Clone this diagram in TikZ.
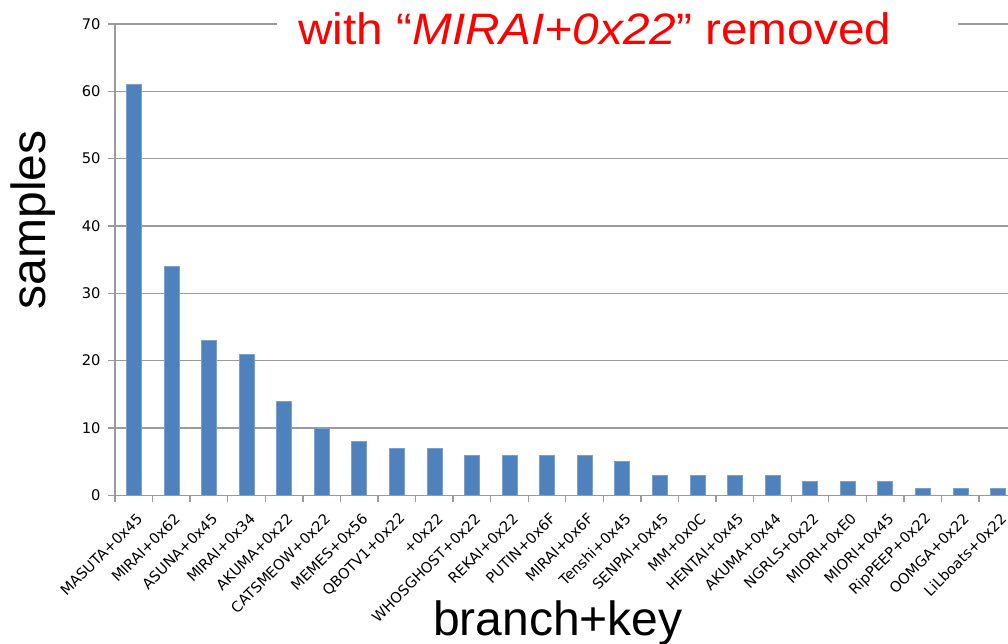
\documentclass[tikz,border=0pt]{standalone}
\usepackage{fontspec}
\setmainfont{Liberation Sans}
\newfontfamily\ticksfont{DejaVu Sans}
\definecolor{barblue}{RGB}{79,129,189}
\definecolor{gridgray}{RGB}{155,155,155}
\begin{document}
\begin{tikzpicture}[x=28.18pt, y=5.05pt,
  grid/.style={gridgray, line width=1pt},
  bar/.style={fill=barblue, draw=barblue!75!white, line width=0.4pt},
  ylab/.style={anchor=east, inner sep=0pt, font=\ticksfont\fontsize{11}{12}\selectfont},
  xlab/.style={anchor=east, rotate=45, inner sep=0pt, font=\ticksfont\fontsize{10.9}{12}\selectfont},
  big/.style={font=\fontsize{36}{40}\selectfont, inner sep=0pt}]
\useasboundingbox (-3.061,-21.99) rectangle (23.77,73.55);
\coordinate (O) at (0,0);
\coordinate (E) at (23.77,0);
\coordinate (T) at (0,70);
\foreach \v in {10,20,...,60}
  \draw[grid] (0,\v) -- (23.77,\v);
\coordinate (G1) at (4.31,70);
\coordinate (G2) at (22.44,70);
\coordinate (G3) at (23.77,70);
\draw[grid] (T) -- (G1);
\draw[grid] (G2) -- (G3);
\draw[grid] (T) -- (O) -- (E);
\foreach \v in {0,10,...,70} {
  \draw[grid] (-0.186,\v) -- (0,\v);
  \node[ylab] (y\v) at (-0.38,\v) {\v};
}
\foreach \i in {0,...,23}
  \draw[grid] (\i,0) -- (\i,-1.04);
\foreach \v/\t [count=\i from 0] in {61/MASUTA+0x45, 34/MIRAI+0x62, 23/ASUNA+0x45,
    21/MIRAI+0x34, 14/AKUMA+0x22, 10/CATSMEOW+0x22, 8/MEMES+0x56, 7/QBOTV1+0x22,
    7/+0x22, 6/WHOSGHOST+0x22, 6/REKAI+0x22, 6/PUTIN+0x6F, 6/MIRAI+0x6F,
    5/Tenshi+0x45, 3/SENPAI+0x45, 3/MM+0x0C, 3/HENTAI+0x45, 3/AKUMA+0x44,
    2/NGRLS+0x22, 2/MIORI+0xE0, 2/MIORI+0x45, 1/RipPEEP+0x22, 1/OOMGA+0x22,
    1/LiLboats+0x22} {
  \draw[bar] (\i+0.3,0) rectangle (\i+0.7,\v);
  \node[xlab] (x\i) at (\i+0.66,-3.1) {\t};
}
\node[big, rotate=90] (ytitle) at (-2.18,40.9) {samples};
\node[big, anchor=base] (xtitle) at (11.79,-20.8) {branch+key};
\node[anchor=base west, inner sep=0pt, red, font=\fontsize{33}{38}\selectfont] (title) at (4.871,66.9)
  {\scalebox{1.085}[1]{with “\textit{MIRAI+0x22}” removed}};
\end{tikzpicture}
\end{document}
